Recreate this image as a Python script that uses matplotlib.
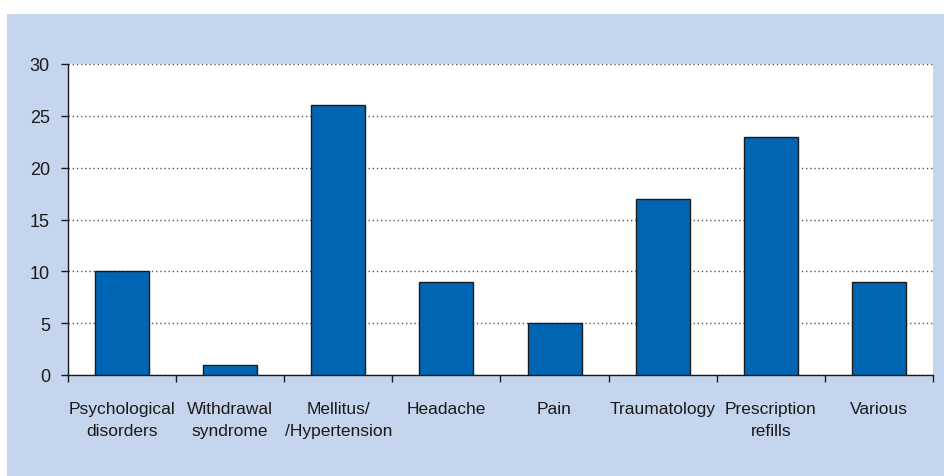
"""
Bar chart of consultation reasons.
"""

import matplotlib
matplotlib.use('Agg')
import matplotlib.pyplot as plt
from matplotlib.patches import Rectangle
import numpy as np

categories = ['Psychological\ndisorders', 'Withdrawal\nsyndrome', 'Mellitus/\n/Hypertension',
              'Headache', 'Pain', 'Traumatology', 'Prescription\nrefills', 'Various']
counts = [10, 1, 26, 9, 5, 17, 23, 9]
y_ticks = [0, 5, 10, 15, 20, 25, 30]

plt.rcParams['font.family'] = ['Liberation Sans', 'DejaVu Sans']

W, H = 945, 477
fig = plt.figure(figsize=(W / 100, H / 100), dpi=100, facecolor='white')

# light blue panel behind the chart
fig.patches.append(Rectangle((7 / W, 0), 1 - 7 / W, (H - 15) / H,
                             transform=fig.transFigure, facecolor='#C6D5EE',
                             edgecolor='none', zorder=-10))

ax = fig.add_axes([68 / W, (H - 376) / H, (933 - 68) / W, (376 - 65) / H])
ax.set_facecolor('white')
ax.set_zorder(1)

x = np.arange(len(categories))
ax.bar(x, counts, width=0.5, color='#0066B3', edgecolor='#1a1a1a', linewidth=1, zorder=3)

ax.set_xlim(-0.5, len(categories) - 0.5)
ax.set_ylim(0, 30)
ax.set_yticks(y_ticks)
ax.yaxis.grid(True, linestyle=(0, (1, 2)), color='#555555', linewidth=1)
ax.set_axisbelow(True)

ax.set_xticks(x)
ax.set_xticklabels(categories, fontsize=12.5, color='#1a1a1a', linespacing=1.65)
ax.set_xticks(np.arange(len(categories) + 1) - 0.5, minor=True)
ax.tick_params(axis='x', which='major', length=0, pad=18.5)
ax.tick_params(axis='x', which='minor', length=5, width=1, color='#1a1a1a', direction='out')
ax.tick_params(axis='y', length=5, width=1, color='#1a1a1a', pad=8, labelsize=13, labelcolor='#1a1a1a')

for side in ['top', 'right']:
    ax.spines[side].set_visible(False)
for side in ['left', 'bottom']:
    ax.spines[side].set_color('#1a1a1a')
    ax.spines[side].set_linewidth(1)

fig.savefig('out.png', dpi=100, facecolor=fig.get_facecolor())
